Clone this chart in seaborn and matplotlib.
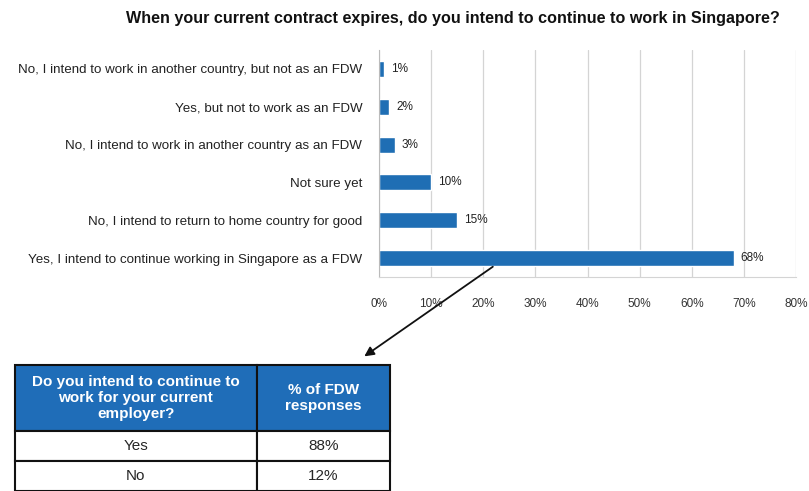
import pandas as pd
import seaborn as sns
import matplotlib.pyplot as plt

# survey answers, top to bottom as drawn
answers = ["No, I intend to work in another country, but not as an FDW",
           "Yes, but not to work as an FDW",
           "No, I intend to work in another country as an FDW",
           "Not sure yet",
           "No, I intend to return to home country for good",
           "Yes, I intend to continue working in Singapore as a FDW"]
shares = [1, 2, 3, 10, 15, 68]
xticks = [0, 10, 20, 30, 40, 50, 60, 70, 80]

# small table under the chart
table_header = ["Do you intend to continue to\nwork for your current\nemployer?", "% of FDW\nresponses"]
table_rows = [["Yes", "88%"], ["No", "12%"]]

bar_blue = "#1F6EB4"

sns.set_style("white")
plt.rcParams['font.family'] = ['Liberation Sans', 'DejaVu Sans']

df = pd.DataFrame({"answer": answers, "share": shares})

fig = plt.figure(figsize=(8.09, 4.91), dpi=100)
ax = fig.add_axes([0.4685, 0.436, 0.5155, 0.462])

sns.barplot(data=df, y="answer", x="share", orient="h", color=bar_blue,
            width=0.42, saturation=1, ax=ax)
for p, v in zip(ax.patches, shares):
    ax.text(p.get_width() + 1.3, p.get_y() + p.get_height() / 2, f"{v}%",
            va="center", ha="left", fontsize=8.5, color="#222222")

ax.set_xlim(0, 80)
ax.set_xticks(xticks)
ax.set_xticklabels([f"{t}%" for t in xticks], fontsize=8.5, color="#333333")
ax.tick_params(axis="x", length=0, pad=15)
ax.tick_params(axis="y", length=3, pad=9, color="#bbbbbb", labelsize=9.6, labelcolor="#222222")
ax.xaxis.grid(True, color="#d4d4d4", linewidth=0.9)
ax.set_axisbelow(True)
ax.set_xlabel("")
ax.set_ylabel("")
for side in ["top", "right"]:
    ax.spines[side].set_visible(False)
ax.spines["left"].set_color("#bbbbbb")
ax.spines["bottom"].set_color("#d4d4d4")

fig.text(0.56, 0.962, "When your current contract expires, do you intend to continue to work in Singapore?",
         ha="center", va="center", fontsize=11.6, fontweight="bold", color="#111111")

# table
tax = fig.add_axes([0.0185, 0.0, 0.4635, 0.2566])
tax.axis("off")
tbl = tax.table(cellText=table_rows, colLabels=table_header, colWidths=[0.645, 0.355],
                cellLoc="center", bbox=[0, 0, 1, 1])
tbl.auto_set_font_size(False)
for (r, c), cell in tbl.get_celld().items():
    cell.set_edgecolor("#111111")
    cell.set_linewidth(1.5)
    if r == 0:
        cell.set_height(67)
        cell.set_facecolor("#1F6DB8")
        cell.get_text().set_color("white")
        cell.get_text().set_fontweight("bold")
        cell.get_text().set_fontsize(11)
    else:
        cell.set_height(30)
        cell.set_facecolor("white")
        cell.get_text().set_fontsize(11)

# arrow from the big bar down to the table
ax.annotate("", xy=(0.4475, 0.271), xycoords="figure fraction",
            xytext=(0.612, 0.460), textcoords="figure fraction",
            arrowprops=dict(arrowstyle="-|>", color="#111111", lw=1.3, mutation_scale=14))

fig.savefig("out.png", dpi=100)
